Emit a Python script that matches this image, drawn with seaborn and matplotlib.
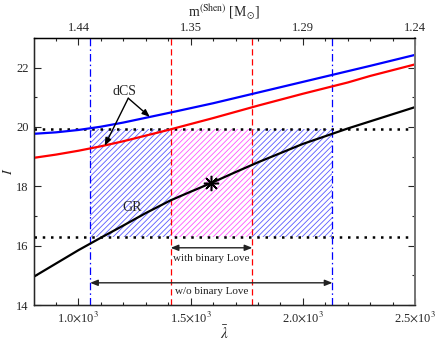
import numpy as np
import pandas as pd
import matplotlib
matplotlib.use("Agg")
import matplotlib.pyplot as plt
import seaborn as sns

# ---- data ----
lam_gr = [800, 1000, 1100, 1200, 1300, 1411, 1500, 1591, 1700, 1800, 2000, 2200, 2300, 2500]
I_gr = [14.95, 15.85, 16.27, 16.68, 17.10, 17.53, 17.82, 18.11, 18.48, 18.81, 19.43, 19.95, 20.19, 20.67]

lam_dcs = [800, 900, 1000, 1100, 1200, 1400, 1600, 1800, 2000, 2200, 2300, 2500]
I_dcs_blue = [19.77, 19.82, 19.90, 20.01, 20.15, 20.47, 20.80, 21.16, 21.52, 21.88, 22.06, 22.43]
I_dcs_red = [18.96, 19.07, 19.20, 19.35, 19.52, 19.90, 20.30, 20.72, 21.12, 21.50, 21.72, 22.11]

star_lam = [1591]
star_I = [18.11]

lam_wo = [1052, 2132]      # blue dash-dot bounds (w/o binary Love)
lam_with = [1411, 1775]    # red dashed bounds (with binary Love)
I_band = [16.30, 19.93]    # dotted horizontal bounds

xticks = [1000, 1500, 2000, 2500]
xticklabels = [r"1.0$\times$10$^{3}$", r"1.5$\times$10$^{3}$", r"2.0$\times$10$^{3}$", r"2.5$\times$10$^{3}$"]
top_ticklabels = ["1.44", "1.35", "1.29", "1.24"]
yticks = [14, 16, 18, 20, 22]

# ---- style ----
sns.set_style("ticks")
plt.rcParams["font.family"] = ["Liberation Serif", "DejaVu Serif"]
plt.rcParams["mathtext.fontset"] = "stix"
plt.rcParams["hatch.linewidth"] = 0.6

fig = plt.figure(figsize=(4.36, 3.42), dpi=100)
ax = fig.add_axes([0.077, 0.108, 0.875, 0.781])

# hatched regions
ax.fill_between(lam_wo, I_band[0], I_band[1], facecolor="white",
                edgecolor="#5a5aff", hatch="//////", linewidth=0, zorder=1)
ax.fill_between(lam_with, I_band[0], I_band[1], facecolor="white",
                edgecolor="#ff55ff", hatch="//////", linewidth=0, zorder=1.1)

# dotted horizontal lines
for yv in I_band:
    ax.axhline(yv, color="black", lw=1.8, ls=(0, (1, 2.3)), zorder=2)

# vertical lines
for xv in lam_wo:
    ax.axvline(xv, color="#0000ff", lw=0.9, ls=(0, (6, 2.5, 1.2, 2.5)), zorder=2)
for xv in lam_with:
    ax.axvline(xv, color="#ff0000", lw=0.9, ls=(0, (5, 3)), zorder=2)

# curves
df_gr = pd.DataFrame({"lam": lam_gr, "I": I_gr})
df_b = pd.DataFrame({"lam": lam_dcs, "I": I_dcs_blue})
df_r = pd.DataFrame({"lam": lam_dcs, "I": I_dcs_red})
sns.lineplot(data=df_b, x="lam", y="I", color="#0000ff", lw=1.6, ax=ax, zorder=3)
sns.lineplot(data=df_r, x="lam", y="I", color="#ff0000", lw=1.6, ax=ax, zorder=3)
sns.lineplot(data=df_gr, x="lam", y="I", color="black", lw=1.6, ax=ax, zorder=3)

ax.plot(star_lam, star_I, marker=(8, 2, 0), ms=11, mew=1.1, color="black",
        ls="none", zorder=4)

# annotations
arrow_kw = dict(arrowstyle="-|>,head_length=0.45,head_width=0.18", color="black", lw=1.0,
                shrinkA=0, shrinkB=0)
ax.annotate("", xy=(1318, 20.34), xytext=(1222, 20.97), arrowprops=arrow_kw, zorder=5)
ax.annotate("", xy=(1117, 19.37), xytext=(1222, 20.97), arrowprops=arrow_kw, zorder=5)
ax.text(1207, 21.2, "dCS", fontsize=10, ha="center", va="center", zorder=5)
ax.text(1237, 17.3, "GR", fontsize=10, ha="center", va="center", zorder=5)

dbl_kw = dict(arrowstyle="<|-|>,head_length=0.45,head_width=0.18", color="#222222", lw=1.0,
              shrinkA=0, shrinkB=0)
ax.annotate("", xy=(lam_with[0], 15.93), xytext=(lam_with[1], 15.93), arrowprops=dbl_kw)
ax.text(np.mean(lam_with), 15.58, "with binary Love", fontsize=8, ha="center", va="center",
        color="#222222")
ax.annotate("", xy=(lam_wo[0], 14.75), xytext=(lam_wo[1], 14.75), arrowprops=dbl_kw)
ax.text(1594, 14.45, "w/o binary Love", fontsize=8, ha="center", va="center",
        color="#222222")

# axes
ax.set_xlim(800, 2500)
ax.set_ylim(14, 23)
ax.set_xticks(xticks)
ax.set_xticklabels(xticklabels, fontsize=9)
ax.set_xticks(np.arange(900, 2500, 100), minor=True)
ax.set_yticks(yticks)
ax.set_yticklabels([str(v) for v in yticks], fontsize=9)
ax.set_yticks([15, 17, 19, 21, 23], minor=True)
ax.tick_params(which="both", direction="in", top=False, right=True, width=0.8)
ax.tick_params(which="major", length=5)
ax.tick_params(which="minor", length=2.5)
ax.set_xlabel(r"$\bar{\lambda}$", fontsize=11, labelpad=0)
ax.set_ylabel(r"$\bar{I}$", fontsize=10)
ax.yaxis.set_label_coords(-0.045, 0.5)
for s in ["left", "bottom", "top"]:
    ax.spines[s].set_color("black")
    ax.spines[s].set_linewidth(1.0)
ax.spines["right"].set_color("#777777")
ax.spines["right"].set_linewidth(1.4)

ax2 = ax.twiny()
ax2.set_xlim(ax.get_xlim())
ax2.set_xticks(xticks)
ax2.set_xticklabels(top_ticklabels, fontsize=9)
ax2.set_xticks(np.arange(900, 2500, 100), minor=True)
ax2.tick_params(which="both", direction="in", width=0.8, pad=3)
ax2.tick_params(which="major", length=5)
ax2.tick_params(which="minor", length=2.5)
ax2.set_xlabel(r"m$^{\rm (Shen)}$ [M$_{\odot}$]", fontsize=10, labelpad=4)
ax2.spines["right"].set_color("#777777")
ax2.spines["right"].set_linewidth(1.4)
ax2.spines["top"].set_color("black")

fig.savefig("out.png", dpi=100)
